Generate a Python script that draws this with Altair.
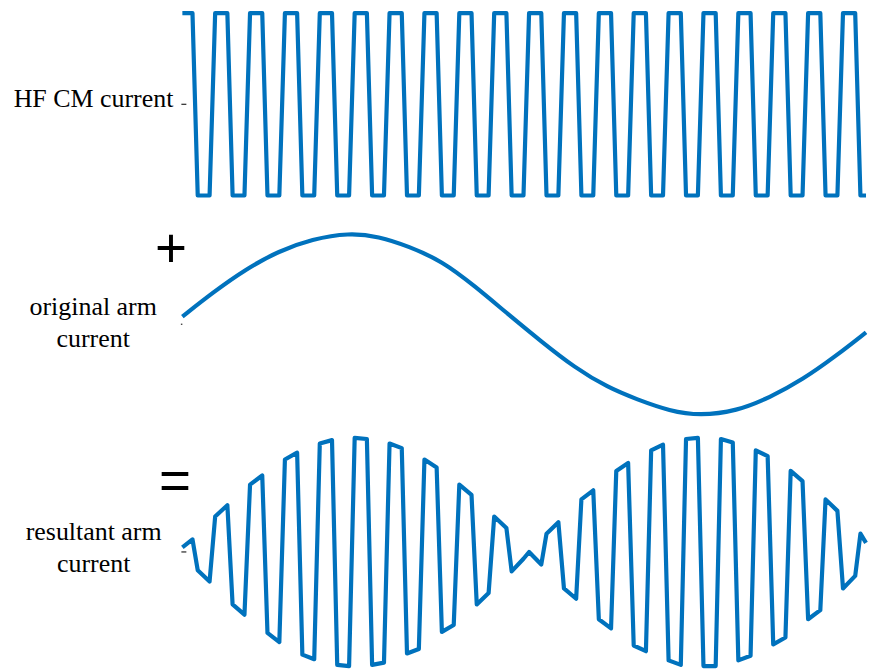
import altair as alt
import pandas as pd

# Time axis in ms (one HF CM period = 1 ms); vertices of the trapezoidal HF wave
hf_t = [
    0.06, 0.35, 0.50, 0.84,
    1.00, 1.35, 1.50, 1.84,
    2.00, 2.35, 2.50, 2.84,
    3.00, 3.35, 3.50, 3.84,
    4.00, 4.35, 4.50, 4.84,
    5.00, 5.35, 5.50, 5.84,
    6.00, 6.35, 6.50, 6.84,
    7.00, 7.35, 7.50, 7.84,
    8.00, 8.35, 8.50, 8.84,
    9.00, 9.35, 9.50, 9.84,
    10.00, 10.35, 10.50, 10.84,
    11.00, 11.35, 11.50, 11.84,
    12.00, 12.35, 12.50, 12.84,
    13.00, 13.35, 13.50, 13.84,
    14.00, 14.35, 14.50, 14.84,
    15.00, 15.35, 15.50, 15.84,
    16.00, 16.35, 16.50, 16.84,
    17.00, 17.35, 17.50, 17.84,
    18.00, 18.35, 18.50, 18.84,
    19.00, 19.35, 19.50, 19.66,
]

# HF common-mode current (normalised)
hf_cm = [
    1, 1, -1, -1,
    1, 1, -1, -1,
    1, 1, -1, -1,
    1, 1, -1, -1,
    1, 1, -1, -1,
    1, 1, -1, -1,
    1, 1, -1, -1,
    1, 1, -1, -1,
    1, 1, -1, -1,
    1, 1, -1, -1,
    1, 1, -1, -1,
    1, 1, -1, -1,
    1, 1, -1, -1,
    1, 1, -1, -1,
    1, 1, -1, -1,
    1, 1, -1, -1,
    1, 1, -1, -1,
    1, 1, -1, -1,
    1, 1, -1, -1,
    1, 1, -1, -1,
]

# Resultant arm current at the same instants (normalised)
arm_res = [
    0.04, 0.11, -0.16, -0.26,
    0.31, 0.41, -0.46, -0.55,
    0.59, 0.67, -0.71, -0.79,
    0.81, 0.87, -0.90, -0.94,
    0.95, 0.98, -0.99, -1.00,
    1.00, 0.99, -0.99, -0.97,
    0.95, 0.91, -0.89, -0.85,
    0.81, 0.74, -0.70, -0.64,
    0.59, 0.50, -0.46, -0.36,
    0.31, 0.21, -0.17, -0.06,
    0.00, -0.11, 0.16, 0.26,
    -0.32, -0.41, 0.46, 0.54,
    -0.59, -0.67, 0.71, 0.78,
    -0.82, -0.87, 0.89, 0.94,
    -0.95, -0.99, 0.99, 1.00,
    -1.00, -1.00, 0.99, 0.96,
    -0.95, -0.91, 0.89, 0.84,
    -0.81, -0.75, 0.71, 0.62,
    -0.59, -0.51, 0.46, 0.36,
    -0.32, -0.21, 0.16, 0.08,
]

# Original (fundamental) arm current samples
sine_t = [0.06, 0.93, 1.88, 2.83, 3.78, 4.83, 5.69, 6.55, 7.50, 8.45, 9.40,
          10.35, 11.31, 12.26, 13.09, 14.04, 14.90, 15.95, 16.90, 17.85, 18.80, 19.66]
arm_orig = [0.085, 0.35, 0.61, 0.81, 0.94, 1.01, 0.97, 0.86, 0.70, 0.42, 0.11,
            -0.19, -0.48, -0.70, -0.83, -0.96, -1.01, -0.96, -0.81, -0.61, -0.35, -0.09]

BLUE = "#0072BD"
INK = "#000000"
SERIF = "Liberation Serif"
W = 686
X_DOMAIN = [0.06, 19.66]

hf_df = pd.DataFrame({"t": hf_t, "hf": hf_cm, "res": arm_res})
sine_df = pd.DataFrame({"t": sine_t, "arm": arm_orig})
zero_df = pd.DataFrame({"z": [0]})

x_enc = alt.X("t:Q", scale=alt.Scale(domain=X_DOMAIN, nice=False, zero=False), axis=None)


def panel(df, field, domain, height, labels, interp="linear", tick=(-1, 4), extra=None):
    y_scale = alt.Scale(domain=domain, nice=False, zero=False)
    line = alt.Chart(df).mark_line(
        color=BLUE, strokeWidth=4.2, strokeJoin="round", interpolate=interp
    ).encode(x=x_enc, y=alt.Y(f"{field}:Q", scale=y_scale, axis=None))
    tick_mark = alt.Chart(zero_df).mark_rule(color="#262626", strokeWidth=1.2).encode(
        x=alt.value(tick[0]), x2=alt.value(tick[1]),
        y=alt.Y("z:Q", scale=y_scale, axis=None),
    )
    layers = [line, tick_mark]
    for text, x, y, align in labels:
        layers.append(
            alt.Chart(pd.DataFrame({"label": [text]})).mark_text(
                font=SERIF, fontSize=26, align=align, baseline="alphabetic",
                color=INK, lineBreak="\n", lineHeight=31.7,
            ).encode(text="label:N", x=alt.value(x), y=alt.value(y))
        )
    if extra is not None:
        layers.extend(extra)
    return alt.layer(*layers).properties(width=W, height=height)


def operator(symbol, x, y):
    return alt.Chart(pd.DataFrame({"s": [symbol]})).mark_text(
        font="Liberation Sans", fontSize=55, align="center", baseline="alphabetic", color=INK
    ).encode(text="s:N", x=alt.value(x), y=alt.value(y))


# invisible left anchor so the plot areas start at a fixed offset
anchor = alt.Chart(zero_df).mark_rule(stroke="white", strokeWidth=0.01, opacity=0).encode(
    x=alt.value(-183), x2=alt.value(-183), y=alt.value(0), y2=alt.value(2)
)

p1 = panel(hf_df, "hf", [-1.1639, 1.1311], 210,
           [("HF CM current", -9, 106.7, "right")], extra=[anchor])
p2 = panel(sine_df, "arm", [-1.1101, 1.2577], 215,
           [("original arm\ncurrent", -89.5, 105, "center")], interp="basis",
           tick=(-1.5, 0), extra=[operator("+", -11.5, 57)])
p3 = panel(hf_df, "res", [-1.0245, 1.1153], 245,
           [("resultant arm\ncurrent", -89, 115.7, "center")],
           extra=[operator("=", -7.3, 75)])

chart = alt.vconcat(p1, p2, p3, spacing=0).properties(padding=0).configure_view(stroke=None)

chart.save("out.html", embed_options={"renderer": "svg", "actions": False})
